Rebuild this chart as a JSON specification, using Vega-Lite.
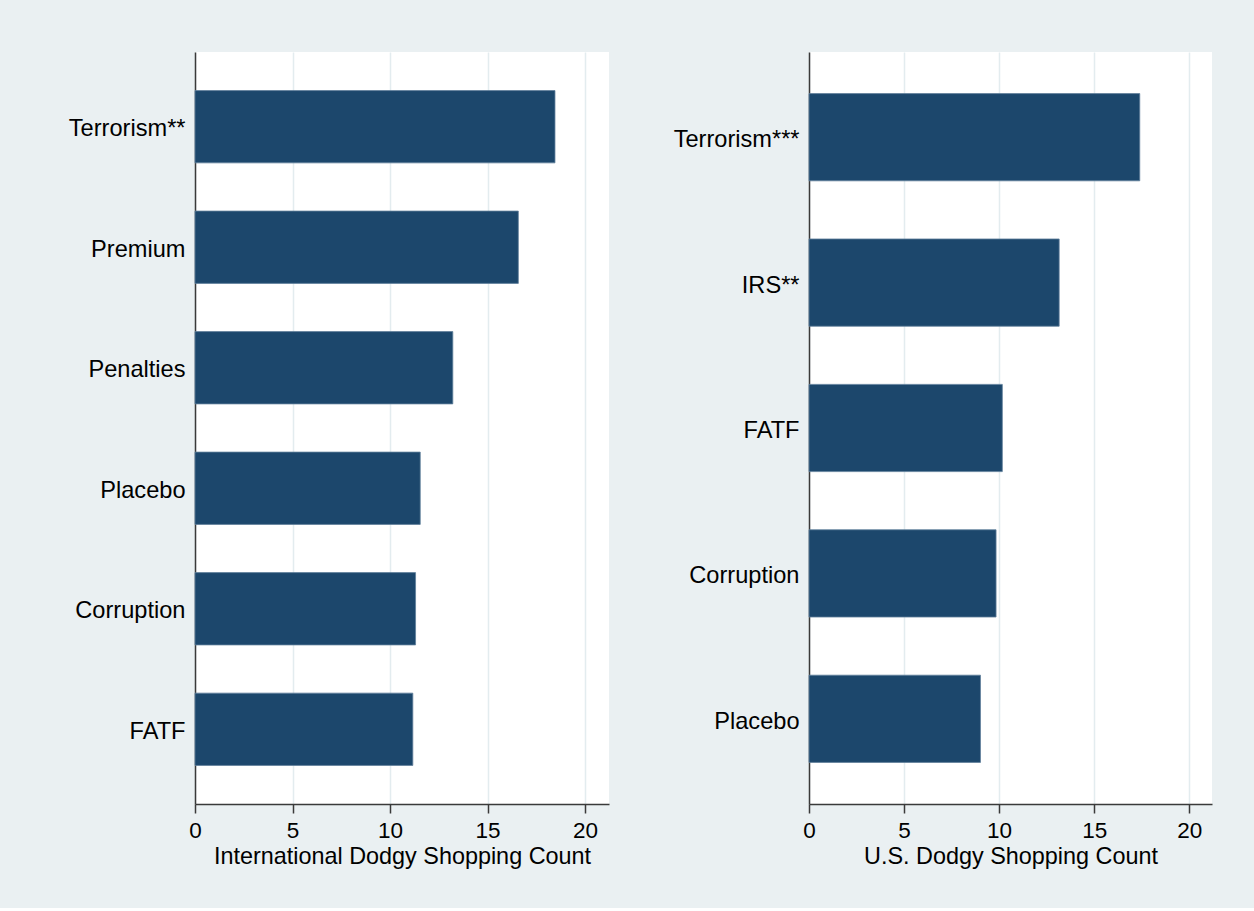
{
  "$schema": "https://vega.github.io/schema/vega-lite/v6.json",
  "background": "#EAF0F2",
  "padding": {"left": 10, "top": 52, "right": 42, "bottom": 40},
  "spacing": 40,
  "datasets": {
    "international": [
      {"treatment": "Terrorism**", "count": 18.46},
      {"treatment": "Premium", "count": 16.58},
      {"treatment": "Penalties", "count": 13.22},
      {"treatment": "Placebo", "count": 11.55},
      {"treatment": "Corruption", "count": 11.31},
      {"treatment": "FATF", "count": 11.17}
    ],
    "us": [
      {"treatment": "Terrorism***", "count": 17.4},
      {"treatment": "IRS**", "count": 13.16},
      {"treatment": "FATF", "count": 10.17},
      {"treatment": "Corruption", "count": 9.84},
      {"treatment": "Placebo", "count": 9.02}
    ]
  },
  "config": {
    "font": "Liberation Sans",
    "view": {"fill": "white", "stroke": null},
    "axis": {
      "labelFont": "Liberation Sans",
      "titleFont": "Liberation Sans",
      "labelColor": "#000000",
      "titleColor": "#000000",
      "labelFontSize": 23.6,
      "titleFontSize": 23.4,
      "titleFontWeight": "normal",
      "domainColor": "#3a3a3a",
      "domainWidth": 1.5,
      "tickColor": "#3a3a3a",
      "tickWidth": 1.5
    },
    "bar": {"color": "#1c476c", "stroke": "#5f7f9b", "strokeWidth": 0.8}
  },
  "hconcat": [
    {
      "data": {"name": "international"},
      "width": 414,
      "height": 752,
      "mark": "bar",
      "encoding": {
        "y": {
          "field": "treatment",
          "type": "nominal",
          "sort": "-x",
          "scale": {"paddingInner": 0.4, "paddingOuter": 0.32},
          "axis": {
            "title": null,
            "ticks": false,
            "grid": false,
            "labelPadding": 10,
            "labelOffset": 2.5,
            "minExtent": 185,
            "maxExtent": 185
          }
        },
        "x": {
          "field": "count",
          "type": "quantitative",
          "scale": {"domain": [0, 21.23], "nice": false},
          "axis": {
            "title": "International Dodgy Shopping Count",
            "values": [0, 5, 10, 15, 20],
            "grid": true,
            "gridColor": "#E3ECEF",
            "gridWidth": 1.5,
            "tickSize": 9,
            "labelPadding": 6,
            "labelFontSize": 22.5,
            "labelFlush": false,
            "titlePadding": 6,
            "minExtent": 35,
            "maxExtent": 35
          }
        }
      }
    },
    {
      "data": {"name": "us"},
      "width": 403,
      "height": 752,
      "mark": "bar",
      "encoding": {
        "y": {
          "field": "treatment",
          "type": "nominal",
          "sort": "-x",
          "scale": {"paddingInner": 0.4, "paddingOuter": 0.286},
          "axis": {
            "title": null,
            "ticks": false,
            "grid": false,
            "labelPadding": 10,
            "labelOffset": 3,
            "minExtent": 160,
            "maxExtent": 160
          }
        },
        "x": {
          "field": "count",
          "type": "quantitative",
          "scale": {"domain": [0, 21.2], "nice": false},
          "axis": {
            "title": "U.S. Dodgy Shopping Count",
            "values": [0, 5, 10, 15, 20],
            "grid": true,
            "gridColor": "#E3ECEF",
            "gridWidth": 1.5,
            "tickSize": 9,
            "labelPadding": 6,
            "labelFontSize": 22.5,
            "labelFlush": false,
            "titlePadding": 6,
            "minExtent": 35,
            "maxExtent": 35
          }
        }
      }
    }
  ]
}
